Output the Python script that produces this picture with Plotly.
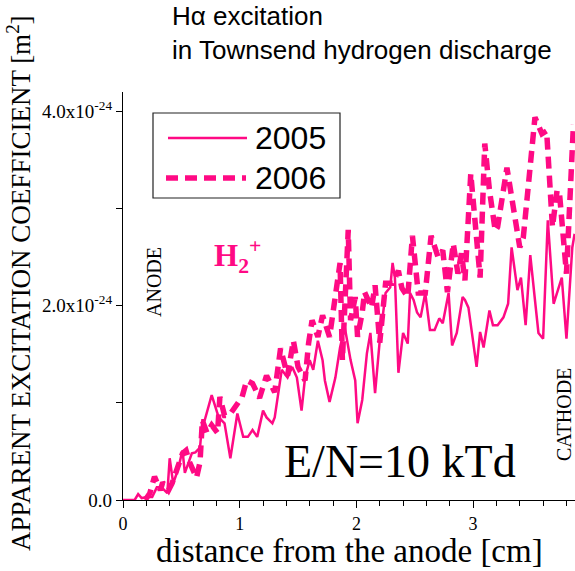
import plotly.graph_objects as go

# Apparent H-alpha excitation coefficient along the gap (units of 1e-24 m^2)
x_2005 = [0.00, 0.10, 0.13, 0.16, 0.21, 0.25, 0.29, 0.33, 0.38, 0.40,
          0.43, 0.47, 0.51, 0.53, 0.56, 0.59, 0.62, 0.66, 0.68, 0.70,
          0.76, 0.82, 0.87, 0.92, 0.98, 1.03, 1.07, 1.11, 1.15, 1.20,
          1.23, 1.28, 1.30, 1.36, 1.41, 1.45, 1.49, 1.53, 1.56, 1.60,
          1.63, 1.67, 1.71, 1.73, 1.77, 1.82, 1.86, 1.90, 1.95, 1.99,
          2.01, 2.05, 2.09, 2.12, 2.16, 2.20, 2.25, 2.29, 2.31, 2.33,
          2.36, 2.40, 2.44, 2.46, 2.49, 2.52, 2.55, 2.59, 2.63, 2.67,
          2.71, 2.74, 2.79, 2.82, 2.86, 2.91, 2.93, 2.96, 2.99, 3.03,
          3.06, 3.09, 3.14, 3.17, 3.21, 3.26, 3.30, 3.33, 3.38, 3.41,
          3.45, 3.49, 3.53, 3.56, 3.60, 3.64, 3.69, 3.76, 3.80, 3.85, 3.87]
y_2005 = [0.00, 0.00, 0.06, 0.02, 0.03, 0.03, 0.13, 0.13, 0.07, 0.43,
          0.17, 0.31, 0.51, 0.28, 0.38, 0.48, 0.49, 0.54, 0.82, 0.82,
          1.08, 0.85, 0.79, 0.43, 0.89, 0.65, 0.65, 0.72, 0.65, 0.92,
          0.85, 0.79, 0.85, 1.34, 1.26, 1.37, 1.26, 0.92, 1.26, 1.44,
          1.34, 1.64, 1.44, 1.23, 1.01, 1.26, 1.57, 1.78, 1.44, 1.23,
          0.79, 1.03, 1.51, 1.72, 1.10, 1.64, 2.13, 2.19, 2.44, 2.29,
          1.31, 1.72, 1.61, 2.13, 2.06, 1.93, 1.88, 2.13, 1.75, 1.75,
          1.87, 1.82, 2.13, 1.59, 1.72, 2.09, 2.06, 1.98, 1.72, 1.37,
          1.73, 1.57, 1.95, 1.80, 1.80, 1.88, 2.02, 2.60, 2.16, 2.29,
          1.80, 2.52, 2.06, 1.72, 1.66, 2.88, 2.02, 2.29, 1.66, 2.60, 2.74]

x_2006 = [0.19, 0.23, 0.27, 0.32, 0.34, 0.39, 0.42, 0.46, 0.51, 0.54,
          0.57, 0.63, 0.66, 0.68, 0.72, 0.76, 0.81, 0.83, 0.87, 0.91,
          0.96, 1.02, 1.06, 1.11, 1.17, 1.23, 1.30, 1.35, 1.41, 1.46,
          1.50, 1.56, 1.59, 1.62, 1.67, 1.71, 1.77, 1.83, 1.86, 1.88,
          1.90, 1.93, 1.95, 1.99, 2.01, 2.05, 2.07, 2.13, 2.16, 2.20,
          2.25, 2.31, 2.36, 2.39, 2.44, 2.48, 2.53, 2.59, 2.64, 2.70,
          2.74, 2.78, 2.83, 2.87, 2.90, 2.93, 2.98, 3.03, 3.06, 3.10,
          3.14, 3.19, 3.21, 3.29, 3.34, 3.40, 3.43, 3.53, 3.59, 3.63,
          3.68, 3.72, 3.74, 3.80, 3.86]
y_2006 = [0.00, 0.07, 0.24, 0.10, 0.18, 0.10, 0.17, 0.31, 0.48, 0.51,
          0.39, 0.23, 0.39, 0.82, 0.69, 0.77, 0.69, 1.06, 0.87, 0.87,
          0.95, 1.06, 1.23, 1.20, 1.05, 1.28, 1.11, 1.56, 1.28, 1.64,
          1.37, 1.23, 1.61, 1.85, 1.68, 1.90, 1.68, 2.16, 2.44, 1.44,
          2.06, 2.78, 1.85, 2.09, 1.68, 1.93, 2.14, 1.98, 2.21, 1.62,
          2.23, 2.23, 2.36, 2.18, 2.09, 2.72, 2.13, 2.13, 2.72, 2.50,
          2.57, 2.14, 2.64, 2.33, 2.54, 2.26, 3.36, 2.70, 2.29, 3.67,
          3.19, 2.77, 2.81, 3.42, 3.01, 2.60, 2.70, 3.94, 3.77, 3.80,
          2.81, 3.19, 3.16, 2.33, 3.87]

series_names = ["2005", "2006"]
x_ticks = [0, 1, 2, 3]
y_ticks = [0, 1, 2, 3, 4]
y_ticktext = ["0.0", "", "2.0x10<sup>-24</sup>", "", "4.0x10<sup>-24</sup>"]

PINK = "#FF0A84"
SERIF = "Liberation Serif"
SANS = "Liberation Sans"
DASH = "12px,7px"

W, H = 575, 571
L, R, T, B = 123, 0, 92, 71
PW, PH = W - L - R, H - T - B


def fx(p):
    """pixel column -> paper x"""
    return (p - L) / PW


def fy(p):
    """pixel row -> paper y"""
    return (H - B - p) / PH


fig = go.Figure()
fig.add_trace(go.Scatter(x=x_2005, y=y_2005, mode="lines", name=series_names[0],
                         line=dict(color=PINK, width=2.5), showlegend=False))
fig.add_trace(go.Scatter(x=x_2006, y=y_2006, mode="lines", name=series_names[1],
                         line=dict(color=PINK, width=5.5, dash=DASH), showlegend=False))

ann = []
# two-line heading
ann.append(dict(text="H\u03b1 excitation<br>in Townsend hydrogen discharge",
                xref="paper", yref="paper", x=fx(170), y=fy(33),
                xanchor="left", yanchor="middle", align="left", showarrow=False,
                font=dict(family=SANS, size=26, color="black")))
# axis titles
ann.append(dict(text="APPARENT EXCITATION COEFFICIENT [m<sup>2</sup>]",
                xref="paper", yref="paper", x=fx(19), y=fy(283), textangle=-90,
                xanchor="center", yanchor="middle", showarrow=False,
                font=dict(family=SERIF, size=27, color="black")))
ann.append(dict(text="distance from the anode [cm]",
                xref="paper", yref="paper", x=fx(349), y=fy(551),
                xanchor="center", yanchor="middle", showarrow=False,
                font=dict(family=SERIF, size=33, color="black")))
# electrode labels
ann.append(dict(text="ANODE", xref="paper", yref="paper", x=fx(154), y=fy(282),
                textangle=-90, xanchor="center", yanchor="middle", showarrow=False,
                font=dict(family=SERIF, size=20, color="black")))
ann.append(dict(text="CATHODE", xref="paper", yref="paper", x=fx(564), y=fy(415),
                textangle=-90, xanchor="center", yanchor="middle", showarrow=False,
                font=dict(family=SERIF, size=20, color="black")))
# ion label and field
ann.append(dict(text="<b>H<sub>2</sub><sup>+</sup></b>", xref="paper", yref="paper",
                x=fx(212), y=fy(256), xanchor="left", yanchor="middle", showarrow=False,
                font=dict(family=SERIF, size=31, color=PINK)))
ann.append(dict(text="E/N=10 kTd", xref="paper", yref="paper", x=fx(400), y=fy(461),
                xanchor="center", yanchor="middle", showarrow=False,
                font=dict(family=SERIF, size=46, color="black")))

# legend box drawn by hand so the line samples are long
shapes = [
    dict(type="rect", xref="paper", yref="paper", x0=fx(153), x1=fx(340),
         y0=fy(198), y1=fy(113), line=dict(color="#222", width=1.2),
         fillcolor="white", layer="above"),
    dict(type="line", xref="paper", yref="paper", x0=fx(168), x1=fx(247),
         y0=fy(138), y1=fy(138), line=dict(color=PINK, width=2.5), layer="above"),
    dict(type="line", xref="paper", yref="paper", x0=fx(166), x1=fx(246),
         y0=fy(178), y1=fy(178), line=dict(color=PINK, width=5.5, dash=DASH), layer="above"),
]
for name, row in zip(series_names, [138, 178]):
    ann.append(dict(text=name, xref="paper", yref="paper", x=fx(253), y=fy(row),
                    xanchor="left", yanchor="middle", showarrow=False,
                    font=dict(family=SANS, size=32, color="black")))

fig.update_layout(
    width=W, height=H,
    margin=dict(l=L, r=R, t=T, b=B, pad=0),
    paper_bgcolor="white", plot_bgcolor="white",
    annotations=ann, shapes=shapes,
    showlegend=False,
    xaxis=dict(range=[0, (W - L) / 116.7], showgrid=False, zeroline=False,
               showline=True, linecolor="black", linewidth=1.3,
               ticks="outside", ticklen=7, tickwidth=1.3, tickcolor="black",
               tickmode="array", tickvals=x_ticks,
               tickfont=dict(family=SERIF, size=18, color="black"),
               minor=dict(ticks="outside", ticklen=5, tickwidth=1.2, tickcolor="black",
                          dtick=0.2, tick0=0, showgrid=False)),
    yaxis=dict(range=[0, 4.2], showgrid=False, zeroline=False,
               showline=True, linecolor="black", linewidth=1.3,
               ticks="outside", ticklen=6, tickwidth=1.3, tickcolor="black",
               tickmode="array", tickvals=y_ticks, ticktext=y_ticktext,
               tickfont=dict(family=SERIF, size=19, color="black")),
)

fig.write_html("out.html")
